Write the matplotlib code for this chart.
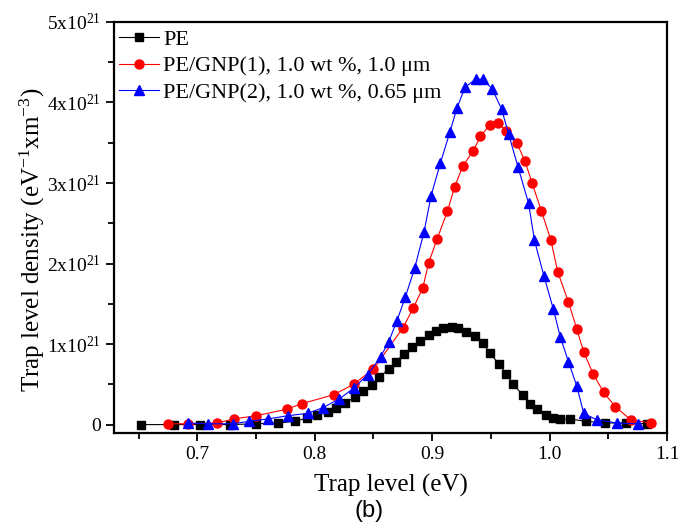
import matplotlib
matplotlib.use("Agg")
import matplotlib.pyplot as plt
from matplotlib.ticker import MultipleLocator

plt.rcParams["font.family"] = ["Liberation Serif", "DejaVu Serif"]
plt.rcParams["mathtext.default"] = "regular"

# Trap level (eV) and density (x1e21 eV^-1 m^-3)
pe_x = [0.652, 0.680, 0.702, 0.728, 0.750, 0.769, 0.783, 0.793, 0.802, 0.811,
        0.818, 0.826, 0.834, 0.841, 0.849, 0.855, 0.863, 0.869, 0.876, 0.883,
        0.890, 0.897, 0.903, 0.909, 0.917, 0.922, 0.929, 0.936, 0.943, 0.949,
        0.957, 0.963, 0.969, 0.977, 0.983, 0.989, 0.997, 1.003, 1.009, 1.017,
        1.031, 1.047, 1.065, 1.083]
pe_y = [0.00, 0.00, 0.00, 0.00, 0.01, 0.02, 0.04, 0.08, 0.12, 0.16,
        0.20, 0.27, 0.34, 0.42, 0.49, 0.59, 0.69, 0.78, 0.88, 0.96,
        1.04, 1.11, 1.16, 1.20, 1.21, 1.20, 1.15, 1.10, 1.01, 0.89,
        0.75, 0.63, 0.50, 0.37, 0.25, 0.19, 0.12, 0.08, 0.07, 0.07,
        0.04, 0.02, 0.02, 0.01]

gnp1_x = [0.675, 0.692, 0.717, 0.731, 0.750, 0.776, 0.789, 0.816, 0.833, 0.850,
          0.875, 0.884, 0.892, 0.897, 0.904, 0.913, 0.919, 0.926, 0.935, 0.941,
          0.949, 0.956, 0.963, 0.972, 0.979, 0.985, 0.993, 1.001, 1.007, 1.016,
          1.023, 1.029, 1.037, 1.046, 1.056, 1.069, 1.086]
gnp1_y = [0.01, 0.01, 0.02, 0.07, 0.11, 0.19, 0.26, 0.37, 0.50, 0.69,
          1.20, 1.45, 1.70, 2.01, 2.30, 2.65, 2.95, 3.21, 3.40, 3.58,
          3.72, 3.75, 3.65, 3.50, 3.27, 3.00, 2.65, 2.29, 1.89, 1.52,
          1.19, 0.90, 0.63, 0.40, 0.22, 0.06, 0.02]

gnp2_x = [0.692, 0.709, 0.730, 0.744, 0.760, 0.777, 0.794, 0.807, 0.821, 0.833,
          0.845, 0.856, 0.863, 0.870, 0.877, 0.885, 0.893, 0.899, 0.907, 0.915,
          0.921, 0.928, 0.937, 0.943, 0.951, 0.959, 0.965, 0.973, 0.982, 0.987,
          0.995, 1.003, 1.009, 1.016, 1.023, 1.029, 1.040, 1.057, 1.075]
gnp2_y = [0.02, 0.01, 0.01, 0.04, 0.07, 0.11, 0.14, 0.21, 0.32, 0.45,
          0.62, 0.84, 1.03, 1.29, 1.58, 1.94, 2.39, 2.84, 3.25, 3.63,
          3.93, 4.19, 4.29, 4.29, 4.17, 3.92, 3.61, 3.20, 2.75, 2.29,
          1.85, 1.44, 1.09, 0.78, 0.48, 0.14, 0.06, 0.02, 0.01]

labels = ["PE", "PE/GNP(1), 1.0 wt %, 1.0 \u03bcm", "PE/GNP(2), 1.0 wt %, 0.65 \u03bcm"]
y_ticks = [0, 1, 2, 3, 4, 5]
y_ticklabels = ["0"] + ["{}x10$^{{21}}$".format(v) for v in y_ticks[1:]]

fig = plt.figure(figsize=(6.78, 5.23), dpi=100)
ax = fig.add_axes([0.168, 0.172, 0.816, 0.786])

ax.plot(pe_x, pe_y, "-s", color="black", lw=0.8, ms=5.5, label=labels[0])
ax.plot(gnp1_x, gnp1_y, "-o", color="red", lw=0.8, ms=6.5, label=labels[1])
ax.plot(gnp2_x, gnp2_y, "-^", color="blue", lw=0.8, ms=7, label=labels[2])

ax.set_xlim(0.629, 1.1)
ax.set_ylim(-0.105, 5.0)
ax.set_xticks([0.7, 0.8, 0.9, 1.0, 1.1])
ax.xaxis.set_minor_locator(MultipleLocator(0.05))
ax.set_yticks(y_ticks)
ax.set_yticklabels(y_ticklabels)
ax.yaxis.set_minor_locator(MultipleLocator(0.5))

ax.tick_params(which="both", direction="out", labelsize=14, width=1.3)
ax.tick_params(which="major", length=6)
ax.tick_params(which="minor", length=4)
for s in ax.spines.values():
    s.set_linewidth(1.6)

ax.set_xlabel("Trap level (eV)", fontsize=18, labelpad=7.5)
ax.set_ylabel("Trap level density (eV$^{-1}$xm$^{-3}$)", fontsize=18)
ax.yaxis.set_label_coords(-0.121, 0.47)

ax.legend(loc="upper left", bbox_to_anchor=(-0.015, 1.015), frameon=False,
          fontsize=16, handlelength=1.8, handletextpad=0.2, labelspacing=0.28,
          borderaxespad=0.2)

fig.text(0.544, 0.022, "(b)", fontsize=17, family=["Liberation Sans"],
         ha="center", va="center")

fig.savefig("out.png", dpi=100)
